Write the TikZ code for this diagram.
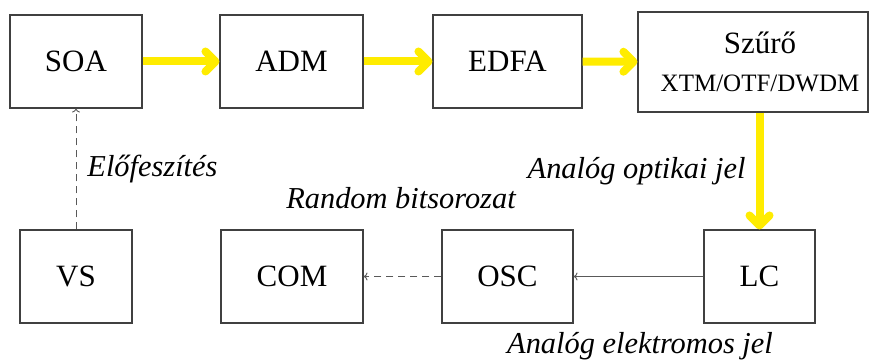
\documentclass[tikz,border=0pt]{standalone}
\usepackage{fontspec}
\setmainfont{Liberation Serif}
\usetikzlibrary{arrows.meta}
\definecolor{fenysarga}{RGB}{255,236,0}

\begin{document}
\begin{tikzpicture}[x=0.5pt, y=-0.5pt,
    every node/.style={font=\fontsize{15.5}{18}\selectfont},
    blokk/.style={draw=black!75, line width=0.55pt, inner sep=0pt, minimum height=46.5pt},
    optikai/.style={color=fenysarga, line width=4pt, -{Straight Barb[length=5pt, width=10pt, line cap=round, line join=round]}},
    elektromos/.style={color=black!65, line width=0.45pt, -{To[length=2pt, width=4pt]}},
    szaggatott/.style={elektromos, dash pattern=on 3.5pt off 2.5pt},
    felirat/.style={font=\itshape\fontsize{15.2}{18}\selectfont, inner sep=2pt, text=black}]
    \useasboundingbox (0,0) rectangle (870,362);

    \node[blokk, minimum width=66pt] at (76, 61.5)(soa){SOA};
    \node[blokk, minimum width=71.5pt] at (291.5, 61.5)(adm){ADM};
    \node[blokk, minimum width=74.5pt] at (507.5, 61.5)(edfa){EDFA};
    \node[blokk, minimum width=115pt, minimum height=50pt, align=center] at (753, 62)(szuro)
        {\hspace*{7pt}Szűrő\\[1pt]\hspace*{7pt}{\fontsize{12.5}{15}\selectfont XTM/OTF/DWDM}};
    \node[blokk, minimum width=56pt] at (76, 276.5)(vs){VS};
    \node[blokk, minimum width=71pt] at (292, 276.5)(com){COM};
    \node[blokk, minimum width=65.5pt] at (507.5, 276.5)(osc){OSC};
    \node[blokk, minimum width=55.5pt] at (759.5, 276.5)(lc){LC};

    \node[felirat] at (401, 198)(bitsor){Random bitsorozat};
    \node[felirat] at (640, 346)(elektjel){Analóg elektromos jel};

    \path[optikai]
        (soa)edge(adm)
        (adm)edge(edfa)
        (edfa)edge(szuro)
        (szuro.south -| lc.north)edge node[felirat, left, inner sep=5pt](optjel){Analóg optikai jel}(lc)
        ;
    \path[szaggatott]
        (vs)edge node[felirat, right, inner sep=5.5pt](elofesz){Előfeszítés}(soa)
        (osc)edge(com)
        ;
    \path[elektromos]
        (lc)edge(osc)
        ;
\end{tikzpicture}
\end{document}
